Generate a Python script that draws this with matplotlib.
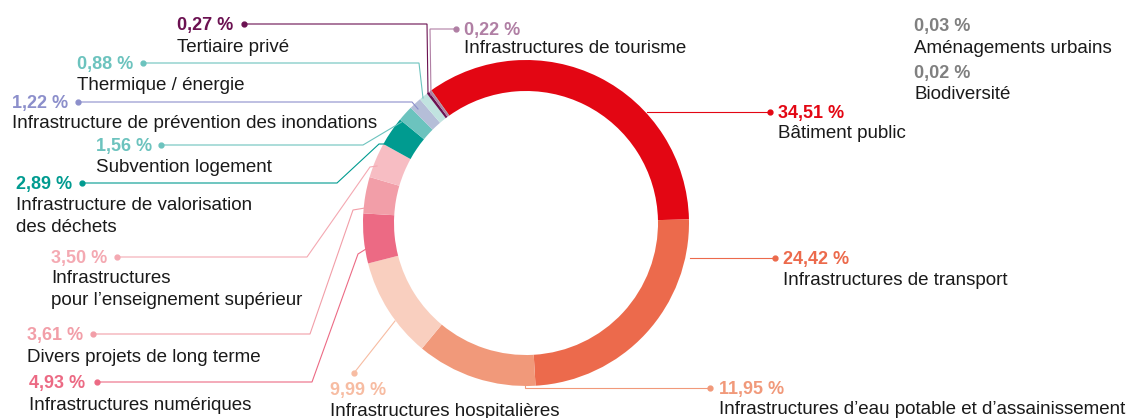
import matplotlib
matplotlib.use('Agg')
import matplotlib.pyplot as plt

# Données : répartition par secteur (en %)
secteurs = ['Bâtiment public', 'Infrastructures de transport',
            'Infrastructures d\u2019eau potable et d\u2019assainissement',
            'Infrastructures hospitalières', 'Infrastructures numériques',
            'Divers projets de long terme',
            'Infrastructures\npour l\u2019enseignement supérieur',
            'Infrastructure de valorisation\ndes déchets', 'Subvention logement',
            'Infrastructure de prévention des inondations', 'Thermique / énergie',
            'Tertiaire privé', 'Infrastructures de tourisme',
            'Aménagements urbains', 'Biodiversité']
parts = [34.51, 24.42, 11.95, 9.99, 4.93, 3.61, 3.50, 2.89, 1.56, 1.22, 0.88,
         0.27, 0.22, 0.03, 0.02]
pourcentages = ['34,51 %', '24,42 %', '11,95 %', '9,99 %', '4,93 %', '3,61 %',
                '3,50 %', '2,89 %', '1,56 %', '1,22 %', '0,88 %', '0,27 %',
                '0,22 %', '0,03 %', '0,02 %']

couleurs = ['#E30613', '#EC6A4C', '#F1997A', '#F9CFBF', '#EC6A84', '#F29EA8',
            '#F7BDC3', '#009B90', '#6CC3BE', '#B5BED8', '#C1E3E0', '#6B1151',
            '#B07FA4', '#808080', '#808080']
couleurs_texte = ['#E30613', '#EC6A4C', '#F1997A', '#F7BCA2', '#EC6A84', '#F29EA8',
                  '#F4A9B2', '#009B90', '#6CC3BE', '#8C8FCB', '#6CC3BE', '#6B1151',
                  '#B07FA4', '#808080', '#808080']

W, H = 1131, 418

def py(y):
    # conversion ordonnée pixel (haut) -> ordonnée du graphe (bas)
    return H - y

# Mise en page des étiquettes : (x gauche, y pourcentage, y libellé, tracé du trait)
mise_en_page = [
    (778, 112, 132, [(647, 112), (770, 112)]),
    (783, 258, 279, [(690, 258), (775, 258)]),
    (719, 388, 408, [(525, 385), (525, 388), (710, 388)]),
    (330, 389, 410, [(395, 321), (354, 373)]),
    (29, 382, 404, [(366, 249), (358, 254), (312, 382), (97, 382)]),
    (27, 334, 356, [(365, 208), (353, 210), (310, 334), (93, 334)]),
    (51, 257, 288, [(377, 166), (370, 167), (307, 257), (117, 257)]),
    (16, 183, 215, [(388, 144), (379, 144), (337, 183), (82, 183)]),
    (96, 145, 166, [(405, 120), (363, 145), (161, 145)]),
    (12, 102, 122, [(418, 109), (412, 102), (78, 102)]),
    (77, 63, 84, [(423, 98), (419, 63), (143, 63)]),
    (177, 24, 46, [(428, 93), (427, 24), (244, 24)]),
    (464, 29, 47, [(431, 95), (430, 29), (456, 29)]),
    (914, 25, 47, None),
    (914, 72, 93, None),
]
# décalage vertical du texte (centre optique des capitales)
dy_texte = 1.5

plt.rcParams['font.family'] = ['Liberation Sans', 'DejaVu Sans']

fig = plt.figure(figsize=(W / 100, H / 100), dpi=100)
ax = fig.add_axes([0, 0, 1, 1])

# Anneau
ax.pie(parts, colors=couleurs, startangle=125.5, counterclock=False,
       center=(526, py(223)), radius=163, frame=True,
       wedgeprops=dict(width=31, linewidth=0))

ax.set_xlim(0, W)
ax.set_ylim(0, H)
ax.set_aspect('equal')
ax.axis('off')

# Etiquettes et traits de rappel
for i in range(len(secteurs)):
    x, y_pct, y_lib, trace = mise_en_page[i]
    if trace is not None:
        xs = [p[0] for p in trace]
        ys = [py(p[1]) for p in trace]
        ax.plot(xs, ys, color=couleurs_texte[i], lw=0.8, solid_joinstyle='miter')
        ax.plot(xs[-1], ys[-1], 'o', color=couleurs_texte[i], ms=3.5)
    ax.text(x, py(y_pct + dy_texte), pourcentages[i], color=couleurs_texte[i],
            fontsize=13, fontweight='bold', ha='left', va='center')
    ax.text(x, py(y_lib + dy_texte), secteurs[i], color='#1A1A1A', fontsize=13.5,
            ha='left', va='center', linespacing=1.36)

fig.savefig('out.png', dpi=100)
